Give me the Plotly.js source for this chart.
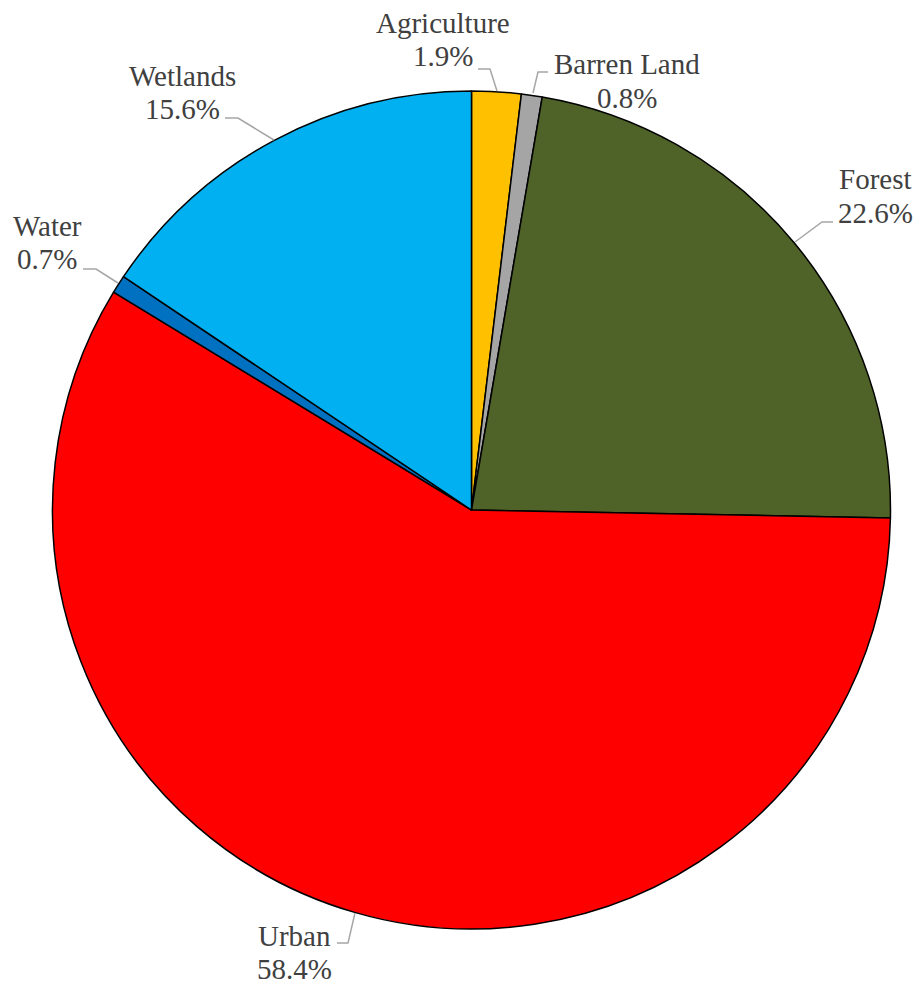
<!DOCTYPE html>
<html>
<head>
<meta charset="utf-8">
<script src="https://cdn.plot.ly/plotly-3.0.1.min.js"></script>
<style>html,body{margin:0;padding:0;background:#fff;}#chart{width:920px;height:987px;}</style>
</head>
<body>
<div id="chart"></div>
<script>
// Data
var categories = ["Agriculture", "Barren Land", "Forest", "Urban", "Water", "Wetlands"];
var shares = [1.9, 0.8, 22.6, 58.4, 0.7, 15.6];
var sliceColors = ["#FFC000", "#A5A5A5", "#4F6228", "#FF0000", "#0070C0", "#00B0F0"];

var W = 920, H = 987;
function px(x) { return x / W; }
function py(y) { return 1 - y / H; }

// Label layout (pixel centers of name line and percent line) and leader lines
var labelPos = [
  {x: 443, yName: 23, yPct: 56, leader: [[478, 69], [490, 69], [497, 91]]},
  {x: 627, yName: 64, yPct: 98, leader: [[548, 72], [538, 72], [533, 93]]},
  {x: 875, yName: 179, yPct: 213, leader: [[833, 222], [822, 222], [795, 242]]},
  {x: 294, yName: 936, yPct: 969, leader: [[337, 943], [348, 943], [355, 913]]},
  {x: 47, yName: 226, yPct: 259, leader: [[83, 269], [96, 269], [118, 283]]},
  {x: 182, yName: 76, yPct: 109, leader: [[225, 118], [238, 118], [274, 140]]}
];

function labelFont() {
  return {family: "Liberation Serif", size: 29, color: "#404040"};
}
var annotations = [];
var shapes = [];
categories.forEach(function (c, i) {
  var p = labelPos[i];
  annotations.push({xref: "paper", yref: "paper", x: px(p.x), y: py(p.yName), text: c,
    showarrow: false, xanchor: "center", yanchor: "middle", font: labelFont()});
  annotations.push({xref: "paper", yref: "paper", x: px(p.x), y: py(p.yPct), text: shares[i].toFixed(1) + "%",
    showarrow: false, xanchor: "center", yanchor: "middle", font: labelFont()});
  var path = p.leader.map(function (pt, k) {
    return (k === 0 ? "M" : "L") + px(pt[0]) + "," + py(pt[1]);
  }).join(" ");
  shapes.push({type: "path", xref: "paper", yref: "paper", path: path,
    line: {color: "#A6A6A6", width: 1.5}});
});

var trace = {
  type: "pie",
  labels: categories,
  values: shares,
  sort: false,
  direction: "clockwise",
  rotation: 0,
  marker: {colors: sliceColors, line: {color: "#000000", width: 1.5}},
  textinfo: "none",
  hoverinfo: "label+percent",
  showlegend: false,
  domain: {x: [px(52), px(891)], y: [py(929), py(91)]}
};

var layout = {
  width: W, height: H,
  margin: {l: 0, r: 0, t: 0, b: 0},
  paper_bgcolor: "#ffffff",
  showlegend: false,
  annotations: annotations,
  shapes: shapes
};

Plotly.newPlot("chart", [trace], layout, {displayModeBar: false, staticPlot: true});
</script>
</body>
</html>
